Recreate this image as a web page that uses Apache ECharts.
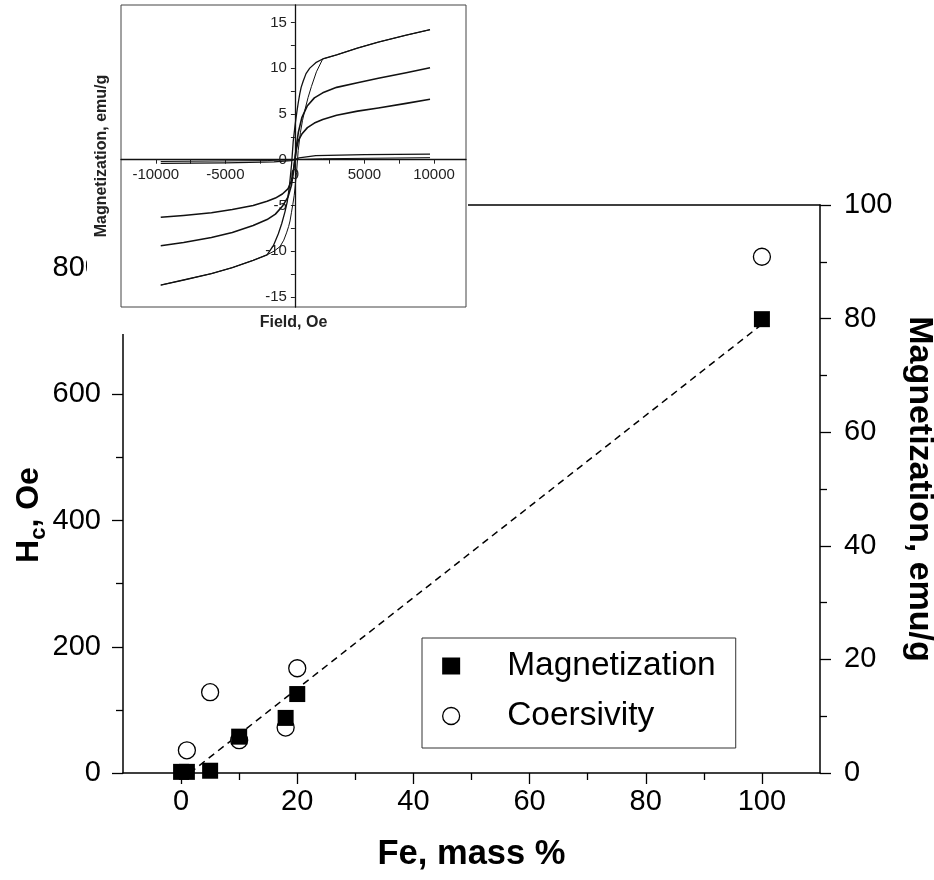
<!DOCTYPE html>
<html>
<head>
<meta charset="utf-8">
<script src="https://cdn.jsdelivr.net/npm/echarts@6/dist/echarts.min.js"></script>
<style>
  html, body { margin: 0; padding: 0; background: #fff; }
  #chart { width: 934px; height: 880px; }
</style>
</head>
<body>
<div id="chart"></div>
<script>
// main plot: Fe content vs magnetization / coercivity
const feMass = [0, 1, 5, 10, 18, 20, 100];
const magnetization = [0.2, 0.2, 0.4, 6.4, 9.7, 13.9, 79.9];
const feMassHc = [1, 5, 10, 18, 20, 100];
const coercivity = [36, 128, 52, 72, 166, 818];
const fitX = [1.5, 100];
const fitY = [0, 79];

const xLabels = [0, 20, 40, 60, 80, 100];
const xMinor = [10, 30, 50, 70, 90];
const hcLabels = [0, 200, 400, 600, 800];
const hcMinor = [100, 300, 500, 700];
const msLabels = [0, 20, 40, 60, 80, 100];
const msMinor = [10, 30, 50, 70, 90];

// inset: magnetization curves, field (Oe) vs M (emu/g)
const loopDown = [[9714, 14.2], [8000, 13.6], [6000, 12.85], [4500, 12.2], [3000, 11.45], [2000, 11.0], [1500, 10.6], [1070, 10.0], [800, 9.4], [600, 8.6], [450, 7.9], [350, 7.2], [250, 6.3], [150, 5.3], [50, 4.2], [0, 3.6], [-120, 2.0], [-238, -0.5], [-400, -3.0], [-550, -4.6], [-714, -5.7], [-950, -7.0], [-1190, -8.1], [-1548, -9.4], [-2000, -10.4], [-3000, -11.0], [-4500, -11.8], [-6000, -12.45], [-8000, -13.15], [-9643, -13.7]];
const loopUp = [[-9643, -13.7], [-8000, -13.15], [-6000, -12.45], [-4500, -11.8], [-3000, -11.0], [-2000, -10.4], [-1500, -10.0], [-1071, -9.5], [-800, -8.8], [-600, -8.0], [-450, -7.3], [-350, -6.7], [-250, -5.8], [-150, -4.9], [-50, -3.9], [0, -3.2], [120, -1.4], [238, 1.0], [400, 3.0], [550, 4.3], [714, 5.4], [950, 6.8], [1190, 8.0], [1548, 9.6], [2000, 11.0], [3000, 11.45], [4500, 12.2], [6000, 12.85], [8000, 13.6], [9714, 14.2]];
const curveMid = [[-9643, -9.4], [-8000, -9.05], [-6000, -8.5], [-4500, -7.95], [-3000, -7.2], [-2000, -6.55], [-1400, -5.95], [-900, -5.1], [-500, -4.1], [-250, -2.8], [-100, -1.3], [0, 0], [100, 1.4], [250, 3.0], [500, 4.6], [900, 5.9], [1400, 6.75], [2000, 7.3], [3000, 7.9], [4500, 8.4], [6000, 8.9], [8000, 9.5], [9714, 10.05]];
const curveLow = [[-9643, -6.3], [-8000, -6.1], [-6000, -5.8], [-4500, -5.45], [-3000, -5.0], [-2000, -4.55], [-1400, -4.2], [-900, -3.75], [-500, -3.2], [-250, -2.3], [-100, -1.1], [0, 0], [100, 1.1], [250, 2.1], [500, 2.8], [900, 3.5], [1400, 4.0], [2000, 4.4], [3000, 4.86], [4500, 5.3], [6000, 5.65], [8000, 6.15], [9714, 6.6]];
const curveWeak = [[-9643, -0.4], [-5000, -0.35], [-1500, -0.25], [-300, -0.1], [0, 0], [300, 0.2], [1500, 0.45], [5000, 0.55], [9714, 0.6]];
const curveFlat = [[-9643, -0.2], [-2000, -0.1], [0, 0], [2000, 0.1], [9714, 0.22]];
const fieldLabels = [-10000, -5000, 0, 5000, 10000];
const fieldTicks = [-10000, -7500, -5000, -2500, 0, 2500, 5000, 7500, 10000];
const mLabels = [-15, -10, -5, 0, 5, 10, 15];
const mTicks = [-15, -12.5, -10, -7.5, -5, -2.5, 0, 2.5, 5, 7.5, 10, 12.5, 15];

let font = "'Liberation Sans', Arial, sans-serif";
let chart = echarts.init(document.getElementById('chart'));

let zip = (xs, ys) => xs.map((x, i) => [x, ys[i]]);
let insetLine = (data, width) => ({
  type: 'line', xAxisIndex: 3, yAxisIndex: 4, data: data,
  symbol: 'none', silent: true, z: 60,
  lineStyle: {color: '#111', width: width, join: 'round'}
});

let option = {
  animation: false,
  backgroundColor: '#fff',
  grid: [
    {left: 123, right: 114, top: 205, bottom: 107, outerBoundsMode: 'none'},
    {left: 121, top: 5, width: 345, height: 302, show: true, borderColor: '#444', borderWidth: 1, backgroundColor: 'transparent', z: 60, outerBoundsMode: 'none'}
  ],
  graphic: [
    {type: 'rect', left: 87, top: 0, shape: {width: 381, height: 334}, style: {fill: '#fff'}, z: 50, silent: true}
  ],
  legend: {
    data: [
      {name: 'Magnetization', itemStyle: {color: '#000', borderWidth: 0}},
      {name: 'Coersivity', itemStyle: {color: '#fff', borderColor: '#000', borderWidth: 1.3}}
    ],
    orient: 'vertical',
    left: 422, top: 638,
    padding: [11, 20, 15, 20],
    itemGap: 16,
    itemWidth: 18, itemHeight: 17,
    borderColor: '#333', borderWidth: 1,
    textStyle: {fontSize: 33.5, color: '#000', fontFamily: font, padding: [0, 0, 0, 42]}
  },
  xAxis: [
    {
      gridIndex: 0, type: 'value', position: 'bottom', min: -10, max: 110,
      axisLine: {onZero: false, lineStyle: {color: '#000', width: 1.5}},
      axisTick: {customValues: xLabels, length: 11, lineStyle: {color: '#000', width: 1.3}},
      axisLabel: {customValues: xLabels, fontSize: 29, color: '#000', fontFamily: font, margin: 14},
      splitLine: {show: false},
      name: 'Fe, mass %', nameLocation: 'middle', nameGap: 64, nameMoveOverlap: false,
      nameTextStyle: {fontSize: 34.5, fontWeight: 'bold', color: '#000', fontFamily: font}
    },
    {
      gridIndex: 0, type: 'value', position: 'bottom', min: -10, max: 110,
      axisLine: {show: false, onZero: false},
      axisTick: {customValues: xMinor, length: 7, lineStyle: {color: '#000', width: 1.3}},
      axisLabel: {show: false}, splitLine: {show: false}
    },
    {
      gridIndex: 0, type: 'value', position: 'top', min: -10, max: 110,
      axisLine: {onZero: false, lineStyle: {color: '#000', width: 1.5}},
      axisTick: {show: false}, axisLabel: {show: false}, splitLine: {show: false}
    },
    {
      // inset field axis, shifted up onto M = 0
      gridIndex: 1, type: 'value', position: 'bottom', offset: -147.3, min: -12500, max: 12300, z: 60,
      axisLine: {onZero: false, lineStyle: {color: '#111', width: 1.3}},
      axisTick: {customValues: fieldTicks, length: 4, lineStyle: {color: '#222'}},
      axisLabel: {customValues: fieldLabels, fontSize: 15, color: '#222', fontFamily: font, margin: 8, formatter: v => String(v)},
      splitLine: {show: false}
    },
    {
      gridIndex: 1, type: 'value', position: 'bottom', min: -12500, max: 12300, z: 60,
      axisLine: {show: false, onZero: false}, axisTick: {show: false}, axisLabel: {show: false}, splitLine: {show: false},
      name: 'Field, Oe', nameLocation: 'middle', nameGap: 8, nameMoveOverlap: false,
      nameTextStyle: {fontSize: 16, fontWeight: 'bold', color: '#222', fontFamily: font}
    }
  ],
  yAxis: [
    {
      gridIndex: 0, type: 'value', position: 'left', min: 0, max: 900,
      axisLine: {onZero: false, lineStyle: {color: '#000', width: 1.5}},
      axisTick: {customValues: hcLabels, length: 11, lineStyle: {color: '#000', width: 1.3}},
      axisLabel: {customValues: hcLabels, fontSize: 29, color: '#000', fontFamily: font, margin: 22},
      splitLine: {show: false},
      name: '{h|H}{s|c}{h|, Oe}', nameLocation: 'middle', nameRotate: 90, nameGap: 73, nameMoveOverlap: false,
      nameTextStyle: {
        color: '#000', padding: [0, 52, 0, 0],
        rich: {
          h: {fontSize: 32, fontWeight: 'bold', fontFamily: font, color: '#000', lineHeight: 32, verticalAlign: 'top'},
          s: {fontSize: 22, fontWeight: 'bold', fontFamily: font, color: '#000', verticalAlign: 'top', padding: [15, 0, 0, 0]}
        }
      }
    },
    {
      gridIndex: 0, type: 'value', position: 'right', min: 0, max: 100,
      axisLine: {onZero: false, lineStyle: {color: '#000', width: 1.5}},
      axisTick: {customValues: msLabels, length: 11, lineStyle: {color: '#000', width: 1.3}},
      axisLabel: {customValues: msLabels, fontSize: 29, color: '#000', fontFamily: font, margin: 24},
      splitLine: {show: false},
      name: 'Magnetization, emu/g', nameLocation: 'middle', nameRotate: -90, nameGap: 82, nameMoveOverlap: false,
      nameTextStyle: {fontSize: 34, fontWeight: 'bold', color: '#000', fontFamily: font}
    },
    {
      gridIndex: 0, type: 'value', position: 'left', min: 0, max: 900,
      axisLine: {show: false, onZero: false},
      axisTick: {customValues: hcMinor, length: 7, lineStyle: {color: '#000', width: 1.3}},
      axisLabel: {show: false}, splitLine: {show: false}
    },
    {
      gridIndex: 0, type: 'value', position: 'right', min: 0, max: 100,
      axisLine: {show: false, onZero: false},
      axisTick: {customValues: msMinor, length: 7, lineStyle: {color: '#000', width: 1.3}},
      axisLabel: {show: false}, splitLine: {show: false}
    },
    {
      // inset M axis, shifted right onto H = 0
      gridIndex: 1, type: 'value', position: 'left', offset: -173.9, min: -16.1, max: 16.9, z: 60,
      axisLine: {onZero: false, lineStyle: {color: '#111', width: 1.3}},
      axisTick: {customValues: mTicks, length: 4, lineStyle: {color: '#222'}},
      axisLabel: {customValues: mLabels, fontSize: 15, color: '#222', fontFamily: font, margin: 8},
      splitLine: {show: false}
    },
    {
      gridIndex: 1, type: 'value', position: 'left', min: -16.1, max: 16.9, z: 60,
      axisLine: {show: false, onZero: false}, axisTick: {show: false}, axisLabel: {show: false}, splitLine: {show: false},
      name: 'Magnetization, emu/g', nameLocation: 'middle', nameRotate: 90, nameGap: 11, nameMoveOverlap: false,
      nameTextStyle: {fontSize: 16, fontWeight: 'bold', color: '#222', fontFamily: font}
    }
  ],
  series: [
    {
      name: 'fit', type: 'line', xAxisIndex: 0, yAxisIndex: 1,
      data: zip(fitX, fitY), symbol: 'none', silent: true, z: 1,
      lineStyle: {color: '#000', width: 1.5, type: [7, 5]}
    },
    {
      name: 'Coersivity', type: 'scatter', xAxisIndex: 0, yAxisIndex: 0,
      data: zip(feMassHc, coercivity), symbol: 'circle', symbolSize: 17, z: 2,
      itemStyle: {color: '#fff', borderColor: '#000', borderWidth: 1.3, opacity: 1}
    },
    {
      name: 'Magnetization', type: 'scatter', xAxisIndex: 0, yAxisIndex: 1,
      data: zip(feMass, magnetization), symbol: 'rect', symbolSize: 16, z: 3,
      itemStyle: {color: '#000', opacity: 1}
    },
    insetLine(loopDown, 1.3),
    insetLine(loopUp, 1.0),
    insetLine(curveMid, 1.6),
    insetLine(curveLow, 1.6),
    insetLine(curveWeak, 1.2),
    insetLine(curveFlat, 1.0)
  ]
};

chart.setOption(option);
</script>
</body>
</html>
